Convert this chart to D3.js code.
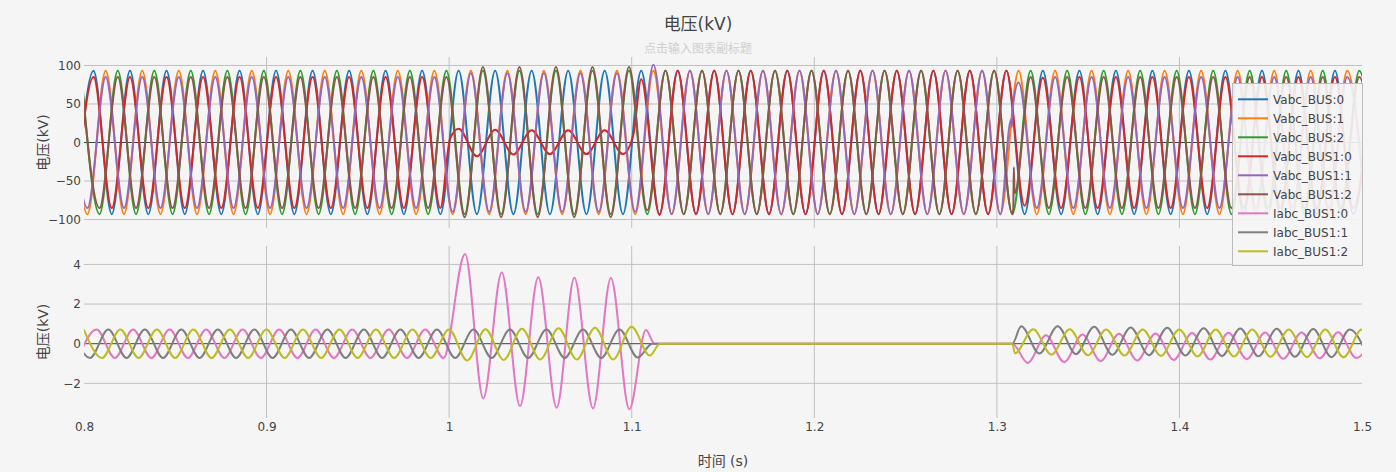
<!DOCTYPE html>
<html><head><meta charset="utf-8">
<script src="https://cdn.jsdelivr.net/npm/d3@7"></script>
<style>body{margin:0;background:#f5f5f5;}svg{display:block;}</style>
</head><body>
<svg id="chart" width="1396" height="472"></svg>
<script>
// ---------- data ----------
const seriesNames = ["Vabc_BUS:0","Vabc_BUS:1","Vabc_BUS:2","Vabc_BUS1:0","Vabc_BUS1:1","Vabc_BUS1:2","Iabc_BUS1:0","Iabc_BUS1:1","Iabc_BUS1:2"];
const seriesColors = ["#1f77b4","#ff7f0e","#2ca02c","#d62728","#9467bd","#8c564b","#e377c2","#7f7f7f","#bcbd22"];
const seriesPanel = [0,0,0,0,0,0,1,1,1];
// time (s) of the first extremum of each series; extrema then follow every half cycle (50 Hz)
const phaseStart = [0.7952,0.7919,0.7985,0.7952,0.7919,0.7985,0.7969,0.7933,0.7999];
const halfCycle = 0.01;

// extremum values (kV) per half cycle (null = given in extra points)
const VA0 = [-93,93,-93,93,-93,93,-93,93,-93,93,-93,93,-93,93,-93,93,-93,93,-93,93,-93,93,-93,93,-93,93,-93,93,-93,93,-93,93,-93,93,-93,93,-93,93,-93,93,-93,93,-93,93,-93,93,-93,93,-93,93,-93,93,-93,93,-93,93,-93,93,-93,93,-93,93,-93,93,-93,93,-93,93,-93,93,-93,93];
const VA1 = [93,-93,93,-93,93,-93,93,-93,93,-93,93,-93,93,-93,93,-93,93,-93,93,-93,93,-93,93,-93,93,-93,93,-93,93,-93,93,-93,93,-93,93,-93,93,-93,93,-93,93,-93,93,-93,93,-93,93,-93,93,-93,93,-93,93,-93,93,-93,93,-93,93,-93,93,-93,93,-93,93,-93,93,-93,93,-93,93,-93];
const VA2 = [93,-93,93,-93,93,-93,93,-93,93,-93,93,-93,93,-93,93,-93,93,-93,93,-93,93,-93,93,-93,93,-93,93,-93,93,-93,93,-93,93,-93,93,-93,93,-93,93,-93,93,-93,93,-93,93,-93,93,-93,93,-93,93,-93,93,-93,93,-93,93,-93,93,-93,93,-93,93,-93,93,-93,93,-93,93,-93,93,-93];
const VB0 = [-85,85,-85,85,-85,85,-85,85,-85,85,-85,85,-85,85,-85,85,-85,85,-85,85,-85,
  18,-18,16.5,-15.5,16,-15,16,-15,16,-15,
  82,-94,
  93,-93,93,-93,93,-93,93,-93,93,-93,93,-93,93,-93,93,-93,93,-93,93,
  -82,84,
  -85,85,-85,85,-85,85,-85,85,-85,85,-85,85,-85,85,-85,85,-85,85];
const VB1 = [85,-85,85,-85,85,-85,85,-85,85,-85,85,-85,85,-85,85,-85,85,-85,85,-85,85,
  -90,90,-90,90,-90,90,-90,90,-90,90,-90,
  101,
  -93,93,-93,93,-93,93,-93,93,-93,93,-93,93,-93,93,-93,93,-93,93,-93,
  78,-85,
  85,-85,85,-85,85,-85,85,-85,85,-85,85,-85,85,-85,85,-85,85,-85];
const VB2 = [85,-85,85,-85,85,-85,85,-85,85,-85,85,-85,85,-85,85,-85,85,-85,85,-85,85,
  -97,98,-97,98,-97,98,-97,98,-97,98,
  -88,
  93,-93,93,-93,93,-93,93,-93,93,-93,93,-93,93,-93,93,-93,93,-93,93,
  -93,
  85,-85,85,-85,85,-85,85,-85,85,-85,85,-85,85,-85,85,-85,85,-85,85,-85];
const IB0 = [-0.72,0.72,-0.72,0.72,-0.72,0.72,-0.72,0.72,-0.72,0.72,-0.72,0.72,-0.72,0.72,-0.72,0.72,-0.72,0.72,-0.72,0.72,-0.72,
  null,null,null,null,null,null,null,null,null,null,null,
  0,0,0,0,0,0,0,0,0,0,0,0,0,0,0,0,0,0,0,0,
  -0.97,0.42,-0.93,0.46,-0.88,0.5,-0.85,0.52,-0.82,0.54,-0.8,0.55,-0.78,0.56,-0.76,0.57,-0.74,0.58,-0.72,0.59];
const IB1 = [0.72,-0.72,0.72,-0.72,0.72,-0.72,0.72,-0.72,0.72,-0.72,0.72,-0.72,0.72,-0.72,0.72,-0.72,0.72,-0.72,0.72,-0.72,0.72,-0.72,0.72,-0.72,0.72,-0.72,0.72,-0.72,0.72,-0.72,0.72,
  -0.7,
  0,0,0,0,0,0,0,0,0,0,0,0,0,0,0,0,0,0,0,0,
  0.88,-0.5,0.88,-0.53,0.85,-0.56,0.82,-0.58,0.8,-0.6,0.78,-0.62,0.77,-0.64,0.75,-0.66,0.74,-0.68,0.72,-0.7];
const IB2 = [0.72,-0.72,0.72,-0.72,0.72,-0.72,0.72,-0.72,0.72,-0.72,0.72,-0.72,0.72,-0.72,0.72,-0.72,0.72,-0.72,0.72,-0.72,0.72,
  -0.85,0.73,-0.82,0.76,-0.8,0.78,-0.8,0.81,-0.8,0.86,-0.6,
  0,0,0,0,0,0,0,0,0,0,0,0,0,0,0,0,0,0,0,
  -0.49,0.73,-0.55,0.73,-0.58,0.72,-0.6,0.72,-0.62,0.72,-0.64,0.72,-0.65,0.72,-0.66,0.72,-0.68,0.71,-0.69,0.71,-0.7];

// irregular points [time s, value] (fault, breaker trip, reclose)
const VB0extra = [[1.0005,5],[1.1009,10]];
const VB1extra = [[1.3078,30],[1.3082,20],[1.3086,42]];
const VB2extra = [[1.3090,-86],[1.3093,-32],[1.3097,-66]];
const IB0extra = [[1.0087,4.53],[1.0187,-2.76],[1.0288,3.59],[1.0388,-3.15],[1.0488,3.35],[1.0589,-3.23],[1.0686,3.33],[1.0788,-3.26],[1.0886,3.32],[1.0987,-3.31],[1.1078,0.69],[1.1125,0],[1.3085,0]];
const IB1extra = [[1.1112,0],[1.3085,0]];
const IB2extra = [[1.1155,0],[1.3085,0]];

const seriesPeaks = [VA0,VA1,VA2,VB0,VB1,VB2,IB0,IB1,IB2];
const seriesExtra = [[],[],[],VB0extra,VB1extra,VB2extra,IB0extra,IB1extra,IB2extra];

const xTicks = [0.8,0.9,1.0,1.1,1.2,1.3,1.4,1.5];
const xTickLabels = ["0.8","0.9","1","1.1","1.2","1.3","1.4","1.5"];
const yTicksTop = [-100,-50,0,50,100];
const yTicksBottom = [-2,0,2,4];

const titleText = "电压(kV)";
const subtitleText = "点击输入图表副标题";
const xTitle = "时间 (s)";
const yTitle = "电压(kV)";

// ---------- layout ----------
const FONT = "'DejaVu Sans','Noto Sans CJK SC',sans-serif";
const L = 84, R = 1362;
const panels = [
  {top:57, bottom:228, domain:[-111,111], ticks:yTicksTop},
  {top:246, bottom:418, domain:[-3.75,4.93], ticks:yTicksBottom}
];
const svg = d3.select("#chart");
svg.append("rect").attr("width",1396).attr("height",472).attr("fill","#f5f5f5");

const x = d3.scaleLinear().domain([0.8,1.5]).range([L,R]);
panels.forEach(p => { p.y = d3.scaleLinear().domain(p.domain).range([p.bottom,p.top]); });

const fmt = v => (v < 0 ? "\u2212" + Math.abs(v) : String(v));

panels.forEach((p,i) => {
  const g = svg.append("g");
  g.selectAll("line.vg").data(xTicks.filter(t => t > 0.8 && t < 1.5)).join("line")
    .attr("x1", d => x(d)).attr("x2", d => x(d))
    .attr("y1", p.top).attr("y2", p.bottom)
    .attr("stroke","#c0c0c0").attr("stroke-width",1);
  g.selectAll("line.hg").data(p.ticks.filter(t => t !== 0)).join("line")
    .attr("x1", L).attr("x2", R)
    .attr("y1", d => p.y(d)).attr("y2", d => p.y(d))
    .attr("stroke","#c0c0c0").attr("stroke-width",1);
  // zero line (below traces)
  g.append("line").attr("x1",L).attr("x2",R).attr("y1",p.y(0)).attr("y2",p.y(0))
    .attr("stroke","#444").attr("stroke-width",1);
  const ax = d3.axisLeft(p.y).tickValues(p.ticks).tickSize(0).tickPadding(3).tickFormat(fmt);
  const ag = svg.append("g").attr("transform",`translate(${L},0)`).call(ax);
  ag.select(".domain").remove();
  ag.selectAll("text").attr("font-family",FONT).attr("font-size",12).attr("fill","#444");
  svg.append("text").attr("transform",`translate(47.5,${(p.top+p.bottom)/2}) rotate(-90)`)
    .attr("text-anchor","middle").attr("font-family",FONT).attr("font-size",14).attr("fill","#444")
    .text(yTitle);
  svg.append("clipPath").attr("id","clip"+i).append("rect")
    .attr("x",L).attr("y",p.top).attr("width",R-L).attr("height",p.bottom-p.top);
});

// traces
seriesPeaks.forEach((vals, s) => {
  const p = panels[seriesPanel[s]];
  const pts = [];
  vals.forEach((v,k) => { if (v !== null) pts.push([phaseStart[s] + k*halfCycle, v]); });
  seriesExtra[s].forEach(d => pts.push(d));
  pts.sort((a,b) => a[0]-b[0]);
  const line = d3.line().x(d => x(d[0])).y(d => p.y(d[1])).curve(d3.curveMonotoneX);
  svg.append("path").datum(pts)
    .attr("clip-path",`url(#clip${seriesPanel[s]})`)
    .attr("d", line).attr("fill","none")
    .attr("stroke", seriesColors[s]).attr("stroke-width",2)
    .attr("stroke-linejoin","round");
});

// x axis labels
const xa = d3.axisBottom(x).tickValues(xTicks).tickSize(0).tickPadding(4.5)
  .tickFormat((d,i) => xTickLabels[i]);
const xg = svg.append("g").attr("transform",`translate(0,${panels[1].bottom})`).call(xa);
xg.select(".domain").remove();
xg.selectAll("text").attr("font-family",FONT).attr("font-size",12).attr("fill","#444");

// titles
svg.append("text").attr("x",698).attr("y",30).attr("text-anchor","middle")
  .attr("font-family",FONT).attr("font-size",17).attr("fill","#444").text(titleText);
svg.append("text").attr("x",698).attr("y",52.5).attr("text-anchor","middle")
  .attr("font-family",FONT).attr("font-size",12).attr("fill","#cfcfcf").text(subtitleText);
svg.append("text").attr("x",723).attr("y",466).attr("text-anchor","middle")
  .attr("font-family",FONT).attr("font-size",14).attr("fill","#444").text(xTitle);

// legend
const lg = svg.append("g").attr("transform","translate(1232,83)");
lg.append("rect").attr("x",0.5).attr("y",0.5).attr("width",130).attr("height",182)
  .attr("fill","#f5f5f5").attr("fill-opacity",0.9).attr("stroke","#bbb").attr("stroke-width",1);
const items = lg.selectAll("g.item").data(seriesNames).join("g")
  .attr("transform",(d,i) => `translate(0,${16.3 + i*19})`);
items.append("line").attr("x1",6).attr("x2",36).attr("y1",0).attr("y2",0)
  .attr("stroke",(d,i) => seriesColors[i]).attr("stroke-width",2);
items.append("text").attr("x",41).attr("y",4.3)
  .attr("font-family",FONT).attr("font-size",12).attr("fill","#444").text(d => d);
</script>
</body></html>
